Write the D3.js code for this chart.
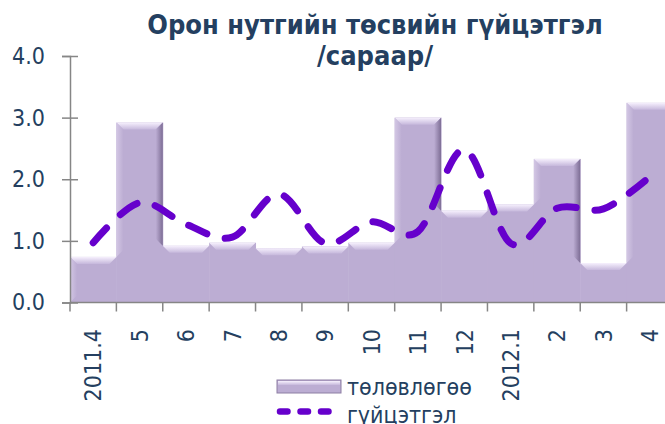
<!DOCTYPE html>
<html>
<head>
<meta charset="utf-8">
<script src="https://cdn.jsdelivr.net/npm/d3@7"></script>
<style>
  body { margin: 0; background: #fff; }
  text { font-family: "DejaVu Sans Condensed", "DejaVu Sans", sans-serif; fill: #243f60; }
</style>
</head>
<body>
<div id="my_dataviz"></div>
<script>
// data
var months = ["2011.4", "5", "6", "7", "8", "9", "10", "11", "12", "2012.1", "2", "3", "4"];
var plan = [0.74, 2.92, 0.92, 0.97, 0.88, 0.91, 0.97, 3.0, 1.49, 1.59, 2.33, 0.64, 3.24];
var actual = [0.97, 1.62, 1.27, 1.06, 1.76, 0.96, 1.31, 1.15, 2.48, 0.96, 1.53, 1.52, 2.04];
var yTicks = [0, 1, 2, 3, 4];
var titleLines = ["Орон нутгийн төсвийн гүйцэтгэл", "/сараар/"];
var legendNames = ["төлөвлөгөө", "гүйцэтгэл"];

// set the dimensions and margins of the graph
var margin = {top: 56, right: 0, bottom: 121.5, left: 70},
    width = 603,
    height = 424 - margin.top - margin.bottom;

var barColor = "#bcadd3",
    lineColor = "#6600cc",
    axisColor = "#868686";

var root = d3.select("#my_dataviz")
  .append("svg")
    .attr("width", 665)
    .attr("height", 424);

// gradients for the bevel look
var defs = root.append("defs");
var topGrad = defs.append("linearGradient")
    .attr("id", "topGrad").attr("x1", 0).attr("y1", 0).attr("x2", 0).attr("y2", 1);
topGrad.append("stop").attr("offset", "0%").attr("stop-color", "#f6f0fd");
topGrad.append("stop").attr("offset", "100%").attr("stop-color", "#c6b8dc");
var rightGrad = defs.append("linearGradient")
    .attr("id", "rightGrad").attr("x1", 0).attr("y1", 0).attr("x2", 1).attr("y2", 0);
rightGrad.append("stop").attr("offset", "0%").attr("stop-color", barColor);
rightGrad.append("stop").attr("offset", "100%").attr("stop-color", "#7d6d95");
var leftGrad = defs.append("linearGradient")
    .attr("id", "leftGrad").attr("x1", 0).attr("y1", 0).attr("x2", 1).attr("y2", 0);
leftGrad.append("stop").attr("offset", "0%").attr("stop-color", "#d3c7e4");
leftGrad.append("stop").attr("offset", "100%").attr("stop-color", barColor);

var svg = root.append("g")
    .attr("transform", "translate(" + margin.left + "," + margin.top + ")");

// scales
var x = d3.scaleBand()
  .domain(months)
  .range([0, width])
  .padding(0);

var y = d3.scaleLinear()
  .domain([0, 4])
  .range([height, 0]);

//*********************************************
// bars (no gap) with a bevel
var bw = x.bandwidth(), b = 7;

svg.selectAll("rect.bar")
  .data(plan)
  .enter()
  .append("rect")
    .attr("class", "bar")
    .attr("x", function(d, i) { return x(months[i]); })
    .attr("y", function(d) { return y(d); })
    .attr("width", bw + 0.5)
    .attr("height", function(d) { return height - y(d); })
    .attr("fill", barColor);

// top bevel
svg.selectAll("polygon.top")
  .data(plan)
  .enter()
  .append("polygon")
    .attr("class", "top")
    .attr("points", function(d, i) {
      var x0 = x(months[i]), t = y(d);
      return [[x0, t], [x0 + bw, t], [x0 + bw - b, t + b], [x0 + b, t + b]].join(" ");
    })
    .attr("fill", "url(#topGrad)");

// side bevels, down to the neighbour's top
svg.selectAll("polygon.left")
  .data(plan)
  .enter()
  .append("polygon")
    .attr("class", "left")
    .attr("points", function(d, i) {
      var x0 = x(months[i]), t = y(d);
      var stop = i > 0 ? y(plan[i - 1]) : height;
      if (stop <= t + b) return "";
      return [[x0, t], [x0 + b, t + b], [x0 + b, stop - b], [x0, stop]].join(" ");
    })
    .attr("fill", "url(#leftGrad)");

svg.selectAll("polygon.right")
  .data(plan)
  .enter()
  .append("polygon")
    .attr("class", "right")
    .attr("points", function(d, i) {
      var x1 = x(months[i]) + bw, t = y(d);
      var stop = i < plan.length - 1 ? y(plan[i + 1]) : height;
      if (stop <= t + b) return "";
      return [[x1, t], [x1, stop], [x1 - b, stop - b], [x1 - b, t + b]].join(" ");
    })
    .attr("fill", "url(#rightGrad)");

//*********************************************
// Y axis
var yAxis = svg.append("g")
  .call(d3.axisLeft(y).tickValues(yTicks).tickFormat(d3.format(".1f")).tickSize(8).tickPadding(17));
yAxis.select(".domain").attr("stroke", axisColor).attr("stroke-width", 1.5);
yAxis.selectAll(".tick line").attr("x1", 8).attr("stroke", axisColor).attr("stroke-width", 1.5);
yAxis.selectAll("text")
  .style("font-size", "23px")
  .style("fill", "#243f60")
  .style("font-family", "'DejaVu Sans Condensed', 'DejaVu Sans', sans-serif");

// X axis: line, ticks at band edges, rotated labels
svg.append("line")
  .attr("x1", 0).attr("x2", 665 - margin.left)
  .attr("y1", height).attr("y2", height)
  .attr("stroke", axisColor).attr("stroke-width", 1.5);

svg.selectAll("line.xtick")
  .data(months)
  .enter()
  .append("line")
    .attr("class", "xtick")
    .attr("x1", function(d) { return x(d); })
    .attr("x2", function(d) { return x(d); })
    .attr("y1", height)
    .attr("y2", height + 9)
    .attr("stroke", axisColor)
    .attr("stroke-width", 1.5);

var xAxis = svg.append("g")
  .attr("transform", "translate(0," + height + ")")
  .call(d3.axisBottom(x).tickSize(0).tickPadding(0));
xAxis.select(".domain").remove();
xAxis.selectAll("text")
  .attr("y", 0)
  .attr("x", -26.5)
  .attr("dy", "0.36em")
  .attr("transform", "rotate(-90)")
  .style("text-anchor", "end")
  .style("font-size", "23px")
  .style("fill", "#243f60")
  .style("font-family", "'DejaVu Sans Condensed', 'DejaVu Sans', sans-serif");

//*********************************************
// smoothed dashed line
var line = d3.line()
  .x(function(d, i) { return x(months[i]) + bw / 2; })
  .y(function(d) { return y(d); })
  .curve(d3.curveCatmullRom.alpha(0));

svg.append("path")
  .datum(actual)
  .attr("d", line)
  .attr("fill", "none")
  .attr("stroke", lineColor)
  .attr("stroke-width", 7)
  .attr("stroke-linecap", "round")
  .attr("stroke-dasharray", "20,19");

//*********************************************
// title
root.selectAll("text.title")
  .data(titleLines)
  .enter()
  .append("text")
    .attr("class", "title")
    .attr("x", 375)
    .attr("y", function(d, i) { return 34 + i * 31; })
    .attr("text-anchor", "middle")
    .style("font-size", "27px")
    .style("font-weight", "bold")
    .text(function(d) { return d; });

// legend
var lg = root.append("g");
lg.append("rect")
  .attr("x", 277).attr("y", 380).attr("width", 64).attr("height", 13)
  .attr("fill", barColor).attr("stroke", "#8d7ea3").attr("stroke-width", 1);
lg.append("rect")
  .attr("x", 278).attr("y", 381).attr("width", 62).attr("height", 4)
  .attr("fill", "url(#topGrad)");
lg.append("line")
  .attr("x1", 280).attr("x2", 338).attr("y1", 411.5).attr("y2", 411.5)
  .attr("stroke", lineColor).attr("stroke-width", 6.5)
  .attr("stroke-linecap", "round")
  .attr("stroke-dasharray", "7.5,13");
lg.selectAll("text")
  .data(legendNames)
  .enter()
  .append("text")
    .attr("x", 347)
    .attr("y", function(d, i) { return 395 + i * 28; })
    .style("font-size", "23px")
    .text(function(d) { return d; });
</script>
</body>
</html>
